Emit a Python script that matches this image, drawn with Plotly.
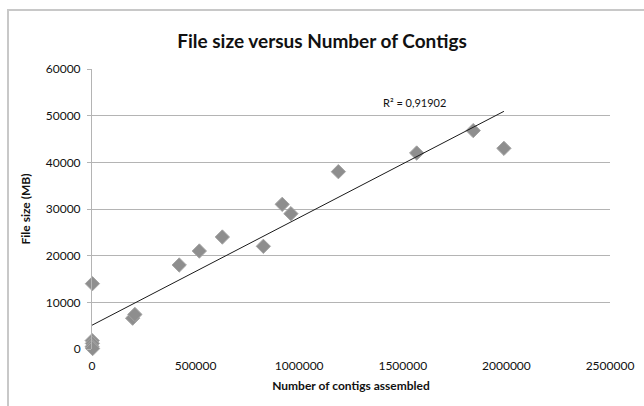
import numpy as np
import plotly.graph_objects as go

# Data
contigs = [1000, 2000, 500, 3000, 2000, 196000, 207000, 421000, 518000, 629000,
           827000, 918000, 960000, 1189000, 1567000, 1840000, 1988000]
file_size = [1800, 1200, 500, 100, 14000, 6600, 7400, 18000, 21000, 24000,
             22000, 31000, 29000, 38000, 42000, 46800, 43000]
r2_label = "R² = 0,91902"
title_text = "File size versus Number of Contigs"
x_title = "Number of contigs assembled"
y_title = "File size (MB)"
x_ticks = [0, 500000, 1000000, 1500000, 2000000, 2500000]
y_ticks = [0, 10000, 20000, 30000, 40000, 50000, 60000]

x = np.array(contigs, dtype=float)
y = np.array(file_size, dtype=float)
slope, intercept = np.polyfit(x, y, 1)
x_line = np.array([0.0, x.max()])
y_line = slope * x_line + intercept

FONT = "Lato, Carlito, 'Open Sans', sans-serif"
GRID = "#b4b4b4"

fig = go.Figure()
fig.add_trace(go.Scatter(
    x=contigs, y=file_size, mode="markers", cliponaxis=False,
    marker=dict(symbol="diamond", size=11, color="#8e8e8e",
                line=dict(color="#a4a4a4", width=1)),
    showlegend=False, hoverinfo="x+y"))
fig.add_trace(go.Scatter(
    x=x_line, y=y_line, mode="lines", cliponaxis=False,
    line=dict(color="#1a1a1a", width=1), showlegend=False, hoverinfo="skip"))

fig.update_layout(
    width=644, height=406,
    margin=dict(l=92, r=34, t=69, b=57),
    paper_bgcolor="white", plot_bgcolor="white",
    font=dict(family=FONT, size=12, color="#111111"),
    title=dict(text="<b>" + title_text + "</b>", x=0.5, xanchor="center",
               y=1 - 41 / 406, yanchor="middle",
               font=dict(family=FONT, size=19, color="#111111")),
    xaxis=dict(range=[0, 2500000], tickvals=x_ticks, automargin=False,
               ticktext=[str(v) for v in x_ticks],
               showgrid=False, zeroline=False, showline=False,
               ticks="outside", ticklen=6, tickcolor="rgba(0,0,0,0)",
               tickfont=dict(size=12),
               title=dict(text="<b>" + x_title + "</b>", standoff=9,
                          font=dict(size=12))),
    yaxis=dict(range=[0, 60000], tickvals=y_ticks, automargin=False,
               ticktext=[str(v) for v in y_ticks],
               showgrid=True, gridcolor=GRID, gridwidth=1,
               zeroline=False, showline=True, linecolor=GRID, linewidth=1,
               ticks="outside", ticklen=4, tickcolor=GRID,
               ticklabelstandoff=4,
               tickfont=dict(size=12),
               title=dict(text="<b>" + y_title + "</b>", standoff=12,
                          font=dict(size=12))),
    annotations=[dict(text=r2_label, xref="paper", yref="paper",
                      x=(414 - 92) / 518, y=(349 - 94) / 280,
                      showarrow=False, font=dict(size=11, color="#111111"))],
    shapes=[dict(type="rect", xref="paper", yref="paper",
                 x0=(8 - 92) / 518, x1=1.2, y0=-0.3, y1=1 + (69 - 10) / 280,
                 line=dict(color="#c8c8c8", width=2), layer="below")],
)

fig.write_html("out.html", config={"displayModeBar": False},
               post_script="document.body.style.margin='0';"
                           "document.body.style.overflow='hidden';")
